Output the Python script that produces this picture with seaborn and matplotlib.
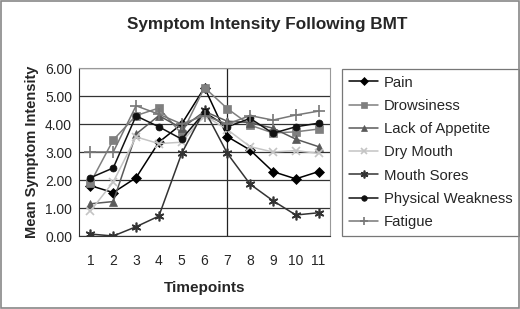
import numpy as np
import pandas as pd
import seaborn as sns
import matplotlib.pyplot as plt
from matplotlib.patches import Rectangle

# values
timepoints = [1, 2, 3, 4, 5, 6, 7, 8, 9, 10, 11]
pain = [1.8, 1.55, 2.08, 3.35, 4.0, 5.3, 3.55, 3.07, 2.3, 2.04, 2.3]
drowsiness = [1.9, 3.43, 4.3, 4.57, 3.65, 5.3, 4.55, 3.96, 3.68, 3.72, 3.82]
lack_of_appetite = [1.15, 1.23, 3.64, 4.3, 3.85, 4.45, 4.1, 4.05, 3.85, 3.46, 3.19]
dry_mouth = [0.89, 1.93, 3.54, 3.3, 3.35, 4.3, 3.8, 3.19, 3.0, 3.05, 2.95]
mouth_sores = [0.07, 0.0, 0.33, 0.71, 2.95, 4.5, 2.95, 1.85, 1.26, 0.75, 0.83]
physical_weakness = [2.08, 2.43, 4.29, 3.9, 3.46, 4.42, 3.9, 4.2, 3.67, 3.9, 4.03]
fatigue = [3.0, 3.0, 4.65, 4.35, 4.0, 4.3, 4.0, 4.3, 4.14, 4.32, 4.46]

names = ["Pain", "Drowsiness", "Lack of Appetite", "Dry Mouth",
         "Mouth Sores", "Physical Weakness", "Fatigue"]
series = [pain, drowsiness, lack_of_appetite, dry_mouth,
          mouth_sores, physical_weakness, fatigue]
colors = ["#000000", "#7f7f7f", "#5a5a5a", "#c4c4c4", "#333333", "#111111", "#777777"]
markers = ["D", "s", "^", "x", (6, 2, 0), "o", "+"]
msizes = [5, 6, 6, 6, 7, 5, 8]

df = pd.DataFrame({
    "Timepoint": np.tile(timepoints, len(names)),
    "Symptom": np.repeat(names, len(timepoints)),
    "Value": np.concatenate(series),
})

sns.set_style("white")
plt.rcParams["font.family"] = ["Liberation Sans", "DejaVu Sans"]

fig = plt.figure(figsize=(5.2, 3.09), dpi=100)
ax = fig.add_axes([79 / 520, 1 - 236 / 309, 251 / 520, 168 / 309])

for name, col, mk, ms in zip(names, colors, markers, msizes):
    sub = df[df["Symptom"] == name]
    sns.lineplot(data=sub, x="Timepoint", y="Value", ax=ax, color=col,
                 marker=mk, markersize=ms, markeredgecolor=col,
                 markeredgewidth=1.2 if mk in ("x", "+", (6, 2, 0)) else 0.5,
                 linewidth=1.1, label=name)

ax.set_xlim(0.5, 11.5)
ax.set_ylim(0, 6)
ax.set_yticks(np.arange(0, 6.01, 1))
ax.set_yticklabels([f"{v:.2f}" for v in np.arange(0, 6.01, 1)], fontsize=10)
ax.set_xticks(timepoints)
ax.set_xticklabels([str(t) for t in timepoints], fontsize=10)
ax.set_xticks(np.arange(0.5, 11.6, 1), minor=True)
ax.tick_params(axis="x", which="major", length=0, pad=13)
ax.tick_params(axis="x", which="minor", length=4, direction="inout", color="#333333")
ax.tick_params(axis="y", length=4, direction="inout", color="#333333", pad=3)
ax.yaxis.grid(True, color="#333333", linewidth=0.9)
ax.set_axisbelow(True)
ax.axvline(7, color="#222222", linewidth=0.9, zorder=0.5)

for s in ["top", "right"]:
    ax.spines[s].set_color("#999999")
for s in ["left", "bottom"]:
    ax.spines[s].set_color("#333333")

ax.set_xlabel("Timepoints", fontsize=11, fontweight="bold", labelpad=9)
ax.set_ylabel("Mean Symptom Intensity", fontsize=10.5, fontweight="bold", labelpad=4)
fig.suptitle("Symptom Intensity Following BMT", fontsize=12.3, fontweight="bold",
             x=267 / 520, y=0.945)

leg = ax.legend(loc="upper left", bbox_to_anchor=(342 / 520, 1 - 69 / 309),
                bbox_transform=fig.transFigure, frameon=True, fancybox=False,
                fontsize=10.7, handlelength=2.0, handletextpad=0.35,
                labelspacing=0.62, borderpad=0.45, markerscale=0.8,
                borderaxespad=0)
leg.get_frame().set_edgecolor("#555555")
leg.get_frame().set_linewidth(0.9)

fig.patches.append(Rectangle((0.002, 0.003), 0.996, 0.994, transform=fig.transFigure,
                             fill=False, edgecolor="#888888", linewidth=1.2))

fig.savefig("out.png", dpi=100)
